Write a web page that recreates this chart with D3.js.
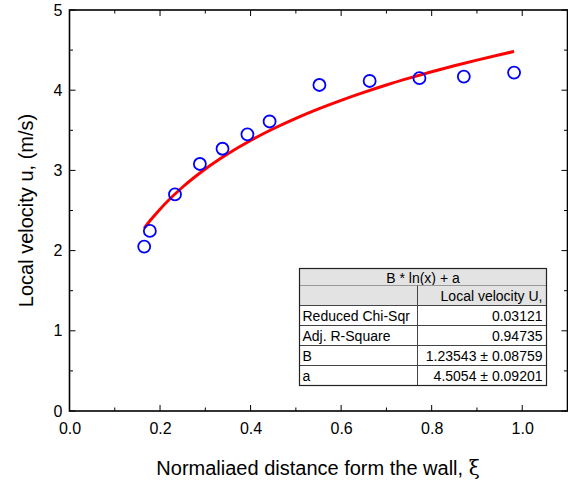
<!DOCTYPE html>
<html>
<head>
<meta charset="utf-8">
<script src="https://cdn.jsdelivr.net/npm/d3@7"></script>
<style>
    body { margin: 0; background: #fff; }
    svg { display: block; font-family: "Liberation Sans", Arial, sans-serif; }
</style>
</head>
<body>
<div id="chart"></div>
<script>
// measured points
const xiValues = [0.165, 0.1775, 0.233, 0.288, 0.338, 0.393, 0.442, 0.552, 0.663, 0.773, 0.871, 0.982];
const uValues = [2.05, 2.245, 2.70, 3.08, 3.27, 3.45, 3.61, 4.065, 4.115, 4.15, 4.17, 4.22];

// fitted curve
const fitX = [0.165, 0.18, 0.2, 0.25, 0.3, 0.35, 0.4, 0.45, 0.5, 0.55, 0.6, 0.65, 0.7, 0.75, 0.8, 0.85, 0.9, 0.95, 0.982];
const fitY = [2.279, 2.387, 2.517, 2.793, 3.018, 3.208, 3.373, 3.519, 3.649, 3.767, 3.874, 3.973, 4.065, 4.150, 4.230, 4.305, 4.375, 4.442, 4.483];

const xTicks = [0, 0.2, 0.4, 0.6, 0.8, 1.0];
const yTicks = [0, 1, 2, 3, 4, 5];

// fit results table
const fitTitle = 'B * ln(x) + a';
const fitColumn = 'Local velocity U,';
const statNames = ['Reduced Chi-Sqr', 'Adj. R-Square', 'B', 'a'];
const statValues = ['0.03121', '0.94735', '1.23543 \u00b1 0.08759', '4.5054 \u00b1 0.09201'];

(function() {
    'use strict';

    const width = 568, height = 482;
    const margin = { top: 10, right: 0.5, bottom: 71, left: 69.5 };

    const svg = d3.select('#chart').append('svg')
        .attr('width', width)
        .attr('height', height);

    const x = d3.scaleLinear().domain([0, 1.1]).range([margin.left, width - margin.right]);
    const y = d3.scaleLinear().domain([0, 5]).range([height - margin.bottom, margin.top]);

    const x0 = x.range()[0], x1 = x.range()[1];
    const y0 = y.range()[0], y1 = y.range()[1];

    // minor + major ticks, drawn inward on all four sides
    const xMinor = d3.range(0, 1.1001, 0.1);
    const yMinor = d3.range(0, 5.001, 0.5);
    const tickG = svg.append('g').attr('stroke', '#000').attr('stroke-width', 1);

    xMinor.forEach((v, i) => {
        const len = (i % 2 === 0) ? 6 : 3.5;
        tickG.append('line').attr('x1', x(v)).attr('x2', x(v)).attr('y1', y0).attr('y2', y0 - len);
        tickG.append('line').attr('x1', x(v)).attr('x2', x(v)).attr('y1', y1).attr('y2', y1 + len);
    });
    yMinor.forEach((v, i) => {
        const len = (i % 2 === 0) ? 6 : 3.5;
        tickG.append('line').attr('x1', x0).attr('x2', x0 + len).attr('y1', y(v)).attr('y2', y(v));
        tickG.append('line').attr('x1', x1).attr('x2', x1 - len).attr('y1', y(v)).attr('y2', y(v));
    });

    // tick labels via d3 axes (no tick lines)
    const xAxis = svg.append('g')
        .attr('transform', `translate(0,${y0})`)
        .call(d3.axisBottom(x).tickValues(xTicks).tickFormat(d3.format('.1f')).tickSize(0).tickPadding(12));
    const yAxis = svg.append('g')
        .attr('transform', `translate(${x0},0)`)
        .call(d3.axisLeft(y).tickValues(yTicks).tickFormat(d3.format('d')).tickSize(0).tickPadding(7));
    [xAxis, yAxis].forEach(a => {
        a.select('.domain').remove();
        a.selectAll('text').attr('font-size', 16).attr('fill', '#000')
            .attr('font-family', '"Liberation Sans", Arial, sans-serif');
    });

    // frame
    svg.append('rect')
        .attr('x', x0).attr('y', y1)
        .attr('width', x1 - x0).attr('height', y0 - y1)
        .attr('fill', 'none').attr('stroke', '#000').attr('stroke-width', 1.6);

    // fit line
    const line = d3.line()
        .x((d, i) => x(fitX[i]))
        .y(d => y(d))
        .curve(d3.curveMonotoneX);
    svg.append('path')
        .datum(fitY)
        .attr('d', line)
        .attr('fill', 'none')
        .attr('stroke', '#ff0000')
        .attr('stroke-width', 3);

    // points
    svg.append('g').selectAll('circle')
        .data(uValues)
        .enter()
        .append('circle')
        .attr('cx', (d, i) => x(xiValues[i]))
        .attr('cy', d => y(d))
        .attr('r', 6)
        .attr('fill', 'none')
        .attr('stroke', '#0000ff')
        .attr('stroke-width', 1.8);

    // table
    const tLeft = 299.5, tRight = 546.5, tMid = 417.5, tTop = 268.5;
    const headH = 17, rowH = 20;
    const tab = svg.append('g').attr('font-size', 14).attr('fill', '#000');

    tab.append('rect').attr('x', tLeft).attr('y', tTop)
        .attr('width', tRight - tLeft).attr('height', headH + rowH)
        .attr('fill', '#e3e3e3');
    tab.append('text').attr('x', (tLeft + tRight) / 2).attr('y', tTop + headH - 3)
        .attr('text-anchor', 'middle').text(fitTitle);
    tab.append('text').attr('x', tRight - 4).attr('y', tTop + headH + rowH - 5)
        .attr('text-anchor', 'end').text(fitColumn);

    statNames.forEach((name, i) => {
        const yb = tTop + headH + rowH * (i + 2) - 5;
        tab.append('text').attr('x', tLeft + 3).attr('y', yb).text(name);
        tab.append('text').attr('x', tRight - 4).attr('y', yb)
            .attr('text-anchor', 'end').text(statValues[i]);
    });

    const grid = tab.append('g').attr('stroke', '#444').attr('stroke-width', 1);
    for (let r = 0; r <= 5; r++) {
        const yy = tTop + headH + rowH * r;
        grid.append('line').attr('x1', tLeft).attr('x2', tRight).attr('y1', yy).attr('y2', yy)
            .attr('stroke', r === 0 ? '#999' : '#444');
    }
    grid.append('line').attr('x1', tMid).attr('x2', tMid)
        .attr('y1', tTop + headH).attr('y2', tTop + headH + rowH * 5);
    tab.append('rect').attr('x', tLeft).attr('y', tTop)
        .attr('width', tRight - tLeft).attr('height', headH + rowH * 5)
        .attr('fill', 'none').attr('stroke', '#222').attr('stroke-width', 1.2);

    // axis titles
    svg.append('text')
        .attr('x', 318).attr('y', 475)
        .attr('text-anchor', 'middle')
        .attr('font-size', 20)
        .text('Normaliaed distance form the wall, ')
        .append('tspan').attr('font-family', '"DejaVu Serif", "Liberation Serif", serif').text('\u03be');

    svg.append('text')
        .attr('transform', `translate(33,${(y0 + y1) / 2}) rotate(-90)`)
        .attr('text-anchor', 'middle')
        .attr('font-size', 20)
        .text('Local velocity u, (m/s)');
})();
</script>
</body>
</html>
